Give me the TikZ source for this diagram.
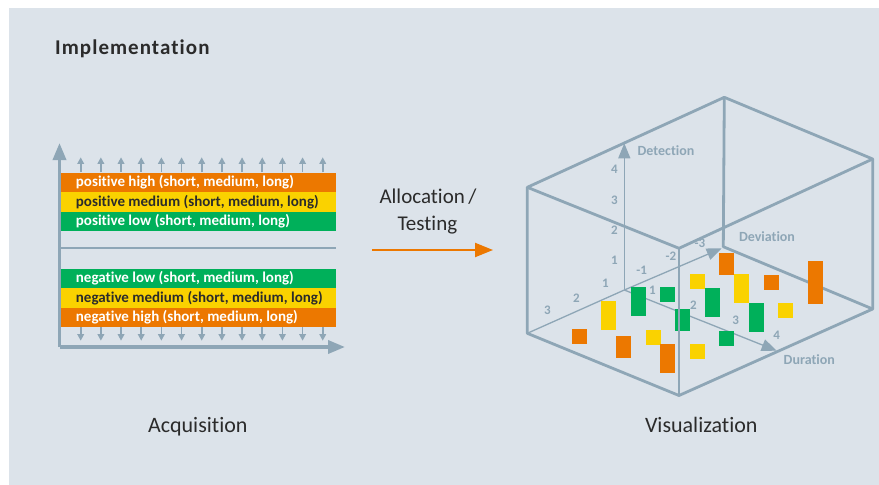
\documentclass[tikz,border=0pt]{standalone}
\usepackage{fontspec}
\setmainfont{Carlito}[Ligatures=NoCommon]
\usetikzlibrary{arrows.meta}
\definecolor{panelbg}{HTML}{DCE3EA}
\definecolor{axisgray}{HTML}{8EA6B6}
\definecolor{levelorange}{HTML}{EC7800}
\definecolor{levelyellow}{HTML}{FAD200}
\definecolor{levelgreen}{HTML}{00B05A}
\definecolor{textdark}{HTML}{2B2B2B}

\begin{document}
\begin{tikzpicture}[
  x=1pt,
  y=-1pt,
  line join=round,
  bigaxis/.style={draw=axisgray,line width=3.5pt,-{Triangle[length=17pt,width=13pt]}},
  midline/.style={draw=axisgray,line width=2.5pt},
  levelarrow/.style={draw=axisgray,line width=1.6pt,-{Triangle[length=6.5pt,width=6.5pt]}},
  levelbar/.style={rectangle,draw=none,inner sep=0pt,minimum width=275.3pt,minimum height=19.6pt,anchor=north west},
  leveltext/.style={anchor=west,inner sep=0pt,font=\fontsize{15}{17}\selectfont\bfseries},
  boxedge/.style={draw=axisgray,line width=2.8pt},
  thinaxis/.style={draw=axisgray,line width=1.3pt},
  plotaxis/.style={thinaxis,-{Triangle[length=15pt,width=12pt]}},
  ticklabel/.style={text=axisgray,font=\fontsize{13}{15}\selectfont\bfseries,inner sep=0pt},
  axisname/.style={text=axisgray,font=\fontsize{14}{16}\selectfont\bfseries,inner sep=0pt},
  caption/.style={text=textdark,font=\fontsize{22}{26}\selectfont,anchor=base,inner sep=0pt},
  flowarrow/.style={draw=levelorange,line width=2.2pt,-{Triangle[length=18pt,width=14pt]}}
]
  \useasboundingbox (0,0) rectangle (879,485);
  \fill[white] (0,0) rectangle (879,485);
  \fill[panelbg] (9,8) rectangle (879,485);

  \node[anchor=base west,inner sep=0pt,text=textdark,
        font=\fontsize{21}{24}\selectfont\bfseries\addfontfeatures{LetterSpace=5}]
    (title) at (55,54.3) {Implementation};

  % Level bands with their axes.
  \coordinate (Lorigin) at (59.5,347);
  \coordinate (Ltop) at (59.5,143);
  \coordinate (Lright) at (345,347);
  \coordinate (Lmid) at (59.5,248);
  \coordinate (LmidEnd) at (336,248);
  \draw[bigaxis] (Lorigin) -- (Ltop);
  \draw[bigaxis] (Lorigin) -- (Lright);
  \draw[midline] (Lmid) -- (LmidEnd);

  \foreach \i in {0,...,12} {
    \draw[levelarrow] (80.7+20.17*\i,172.3) -- (80.7+20.17*\i,157.3);
    \draw[levelarrow] (80.7+20.17*\i,326.7) -- (80.7+20.17*\i,340.7);
  }

  \node[levelbar,fill=levelorange] (posHigh) at (60.7,172.3) {};
  \node[levelbar,fill=levelyellow] (posMedium) at (60.7,191.9) {};
  \node[levelbar,fill=levelgreen] (posLow) at (60.7,211.5) {};
  \node[levelbar,fill=levelgreen] (negLow) at (60.7,268.3) {};
  \node[levelbar,fill=levelyellow] (negMedium) at (60.7,287.8) {};
  \node[levelbar,fill=levelorange] (negHigh) at (60.7,307.3) {};

  \node[leveltext,text=white] (posHighText) at ([xshift=15pt]posHigh.west) {positive high (short, medium, long)};
  \node[leveltext,text=textdark] (posMediumText) at ([xshift=15pt]posMedium.west) {positive medium (short, medium, long)};
  \node[leveltext,text=white] (posLowText) at ([xshift=15pt]posLow.west) {positive low (short, medium, long)};
  \node[leveltext,text=white] (negLowText) at ([xshift=15pt]negLow.west) {negative low (short, medium, long)};
  \node[leveltext,text=textdark] (negMediumText) at ([xshift=15pt]negMedium.west) {negative medium (short, medium, long)};
  \node[leveltext,text=white] (negHighText) at ([xshift=15pt]negHigh.west) {negative high (short, medium, long)};

  \node[caption] (acquisition) at (197.8,432.3) {Acquisition};

  % Step between the two halves.
  \node[caption,font=\fontsize{21}{26}\selectfont] (allocLabel) at (428,203) {Allocation\,/};
  \node[caption,font=\fontsize{21}{26}\selectfont] (testLabel) at (427.4,230.5) {Testing};
  \coordinate (flowStart) at (372,250);
  \coordinate (flowEnd) at (493,250);
  \draw[flowarrow] (flowStart) -- (flowEnd);

  % Box corners, top face and bottom face.
  \coordinate (TB) at (724.3,97.3);
  \coordinate (TL) at (527.3,187.3);
  \coordinate (TF) at (679,248.3);
  \coordinate (TR) at (872.7,159);
  \coordinate (BB) at (723.3,246.7);
  \coordinate (BL) at (527.3,333.3);
  \coordinate (BF) at (679,395.5);
  \coordinate (BR) at (872.7,309);

  \draw[boxedge] (TL) -- (TB) -- (TR) -- (TF) -- cycle;
  \draw[boxedge] (TB) -- (BB) -- (BR);
  \draw[boxedge] (TL) -- (BL) -- (BF) -- (BR) -- (TR);

  % Plot axes inside the box.
  \coordinate (Porigin) at (624.3,290);
  \coordinate (detTip) at (624.3,143.3);
  \coordinate (durTip) at (776.7,350.7);
  \coordinate (devTip) at (721.7,248.3);
  \draw[thinaxis] (BL) -- (Porigin);
  \draw[plotaxis] (Porigin) -- (detTip);
  \draw[plotaxis] (Porigin) -- (durTip);
  \draw[plotaxis] (Porigin) -- (devTip);

  \node[axisname] (detection) at (666,151) {Detection};
  \node[axisname] (deviation) at (767,237) {Deviation};
  \node[axisname] (duration) at (809.3,359.3) {Duration};

  \foreach \lx/\ly/\lt in {614.3/169.3/4, 614.3/200/3, 614.3/230/2, 614.3/260/1,
                           652.3/290/1, 693.3/305/2, 735.7/320/3, 776.7/335/4,
                           641.7/270/-1, 671/256.7/-2, 700/243.3/-3,
                           605.3/283.3/1, 576.3/298.3/2, 547.3/310.7/3} {
    \node[ticklabel] at (\lx,\ly) {\lt};
  }

  % Measured values as blocks on the floor.
  \foreach \bx/\by/\bh/\bc in {572/329/15/levelorange, 601/301/28.7/levelyellow,
      616/336/21.7/levelorange, 631/287/28.7/levelgreen, 646/330/14.7/levelyellow,
      660/287/15/levelgreen, 660/344/28.7/levelorange, 675/309/21.7/levelgreen,
      690/274/15/levelyellow, 705/288/28.7/levelgreen, 690/344/15/levelyellow,
      719/253/21.7/levelorange, 734/274/28.7/levelyellow, 719/331/15/levelgreen,
      749/303/28.7/levelgreen, 764/275/15/levelorange, 778/303/15/levelyellow,
      808/261/42.7/levelorange} {
    \fill[\bc] (\bx,\by) rectangle ++(15,\bh);
  }

  % Front edge stays on top.
  \draw[boxedge] (TF) -- (BF);

  \node[caption] (visualization) at (701.3,432.3) {Visualization};
\end{tikzpicture}
\end{document}
